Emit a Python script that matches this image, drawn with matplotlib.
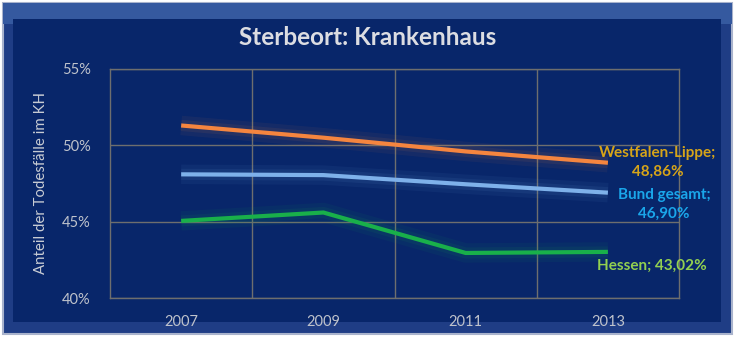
import matplotlib
matplotlib.use("Agg")
import matplotlib.pyplot as plt
import matplotlib.patheffects as pe
from matplotlib.patches import Rectangle
from matplotlib.ticker import FuncFormatter

years = ["2007", "2009", "2011", "2013"]
westfalen = [51.3, 50.5, 49.6, 48.86]
bund = [48.1, 48.05, 47.45, 46.90]
hessen = [45.05, 45.6, 42.95, 43.02]
series = [
    ("Westfalen-Lippe", westfalen, "#f5853f", "#d6a419", "Westfalen-Lippe;\n48,86%", (50, 0)),
    ("Bund gesamt", bund, "#7eb1ea", "#1aa6ea", "Bund gesamt;\n46,90%", (56, -12)),
    ("Hessen", hessen, "#19b04a", "#92d050", "Hessen; 43,02%", (44, -14)),
]

plt.rcParams['font.family'] = ['Lato', 'DejaVu Sans']
navy = "#08266a"

fig = plt.figure(figsize=(7.36, 3.37), dpi=100)
fig.patch.set_facecolor("white")
# frame with bevel look
fig.add_artist(Rectangle((0.004, 0.01), 0.99, 0.98, transform=fig.transFigure,
                         facecolor="#1f3d85", edgecolor="#a9b3cc", lw=1.5, zorder=0))
fig.add_artist(Rectangle((0.004, 0.93), 0.99, 0.06, transform=fig.transFigure,
                         facecolor="#35599f", edgecolor="none", zorder=0))
fig.add_artist(Rectangle((0.018, 0.045), 0.962, 0.9, transform=fig.transFigure,
                         facecolor=navy, edgecolor="none", zorder=0))

ax = fig.add_axes([0.1495, 0.1157, 0.7731, 0.6796])
ax.set_facecolor(navy)
x = range(len(years))
for name, vals, col, lcol, text, off in series:
    ax.plot(x, vals, color=col, lw=3, solid_capstyle="butt", zorder=3,
            path_effects=[pe.Stroke(linewidth=14, foreground=col, alpha=0.06),
                          pe.Stroke(linewidth=8, foreground=col, alpha=0.08),
                          pe.Normal()])
    ax.annotate(text, (len(years) - 1, vals[-1]), xytext=(off[0] * 0.72, off[1] * 0.72),
                textcoords="offset points", ha="center", va="center", color=lcol,
                fontsize=11, fontweight="bold", linespacing=1.45, zorder=5)

ax.set_xlim(-0.5, 3.5)
ax.set_ylim(40, 55)
ax.set_yticks([40, 45, 50, 55])
ax.yaxis.set_major_formatter(FuncFormatter(lambda v, p: f"{v:.0f}%"))
ax.set_xticks(list(x))
ax.set_xticklabels(years)
ax.set_xticks([0.5, 1.5, 2.5], minor=True)
ax.grid(axis="y", which="major", color="#6e6e6e", lw=1)
ax.grid(axis="x", which="minor", color="#6e6e6e", lw=1)
ax.tick_params(which="both", length=0, colors="#bfc3cc", labelsize=10.5)
ax.tick_params(axis="x", pad=12)
ax.tick_params(axis="y", pad=14)
for s in ax.spines.values():
    s.set_color("#6e6e6e")
    s.set_linewidth(1)
ax.set_axisbelow(True)
ax.set_ylabel("Anteil der Todesfälle im KH", color="#c8ccd4", fontsize=10.8, labelpad=10)

fig.text(0.5, 0.89, "Sterbeort: Krankenhaus", ha="center", va="center",
         color="#dcdde2", fontsize=17.5, fontweight="bold")

fig.savefig("out.png", dpi=100)
